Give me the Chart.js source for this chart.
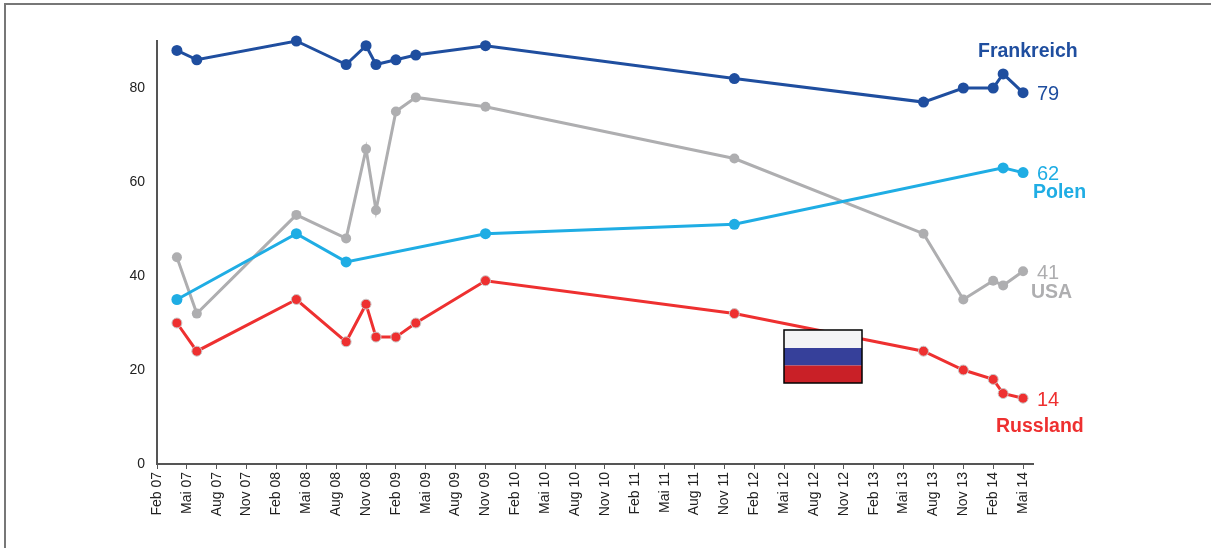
<html>
<head>
    <title>Chart</title>
    <script src="https://cdn.jsdelivr.net/npm/chart.js"></script>
    <style>
        html, body { margin: 0; padding: 0; background: #fff; }
        #box { position: absolute; left: 0; top: 0; width: 1211px; height: 548px; }
    </style>
</head>
<body>
    <div id="box"><canvas id="c1"></canvas></div>
    <script>
        "use strict";
        // months since Feb 07
        let tickLabels = ["Feb 07", "Mai 07", "Aug 07", "Nov 07", "Feb 08", "Mai 08", "Aug 08", "Nov 08",
            "Feb 09", "Mai 09", "Aug 09", "Nov 09", "Feb 10", "Mai 10", "Aug 10", "Nov 10",
            "Feb 11", "Mai 11", "Aug 11", "Nov 11", "Feb 12", "Mai 12", "Aug 12", "Nov 12",
            "Feb 13", "Mai 13", "Aug 13", "Nov 13", "Feb 14", "Mai 14"];
        let months = [2, 4, 14, 19, 21, 22, 24, 26, 33, 58, 77, 81, 84, 85, 87];
        let frankreich = [88, 86, 90, 85, 89, 85, 86, 87, 89, 82, 77, 80, 80, 83, 79];
        let usa = [44, 32, 53, 48, 67, 54, 75, 78, 76, 65, 49, 35, 39, 38, 41];
        let russland = [30, 24, 35, 26, 34, 27, 27, 30, 39, 32, 24, 20, 18, 15, 14];
        let polenMonths = [2, 14, 19, 33, 58, 85, 87];
        let polen = [35, 49, 43, 49, 51, 63, 62];

        const BLUE = "#1f4e9f", CYAN = "#1fade4", GREY = "#aeaeb0", RED = "#ee3030";
        const FONT = '"Liberation Sans", Arial, sans-serif';

        function Pts(xs, ys)
        {
            return xs.map((x, i) => ({ x: x, y: ys[i] }));
        }

        function Line(label, xs, ys, color, r, border)
        {
            return {
                label: label,
                data: Pts(xs, ys),
                clip: false,
                borderColor: color,
                backgroundColor: color,
                borderWidth: 3,
                pointRadius: r,
                pointBackgroundColor: color,
                pointBorderColor: border || color,
                pointBorderWidth: border ? 1 : 0,
                tension: 0
            };
        }

        // names, end values, flag and frame
        let extras = {
            id: "extras",
            afterDatasetsDraw(chart)
            {
                let ctx = chart.ctx;
                ctx.save();
                // frame
                ctx.fillStyle = "#777";
                ctx.fillRect(4, 3, 1207, 2);
                ctx.fillRect(4, 3, 2, 545);

                // flag
                ctx.fillStyle = "#f3f4f5";
                ctx.fillRect(784, 330, 78, 18);
                ctx.fillStyle = "#36409a";
                ctx.fillRect(784, 348, 78, 17.5);
                ctx.fillStyle = "#c92027";
                ctx.fillRect(784, 365.5, 78, 17.5);
                ctx.strokeStyle = "#000";
                ctx.lineWidth = 1.5;
                ctx.strokeRect(784, 330, 78, 53);

                ctx.textBaseline = "alphabetic";
                ctx.textAlign = "left";
                let txt = [
                    ["Frankreich", 978, 57, BLUE, true],
                    ["79", 1037, 100, BLUE, false],
                    ["62", 1037, 180, CYAN, false],
                    ["Polen", 1033, 198, CYAN, true],
                    ["41", 1037, 279, GREY, false],
                    ["USA", 1031, 298, GREY, true],
                    ["14", 1037, 406, RED, false],
                    ["Russland", 996, 432, RED, true]
                ];
                txt.forEach(t => {
                    ctx.font = (t[4] ? "bold 19.5px " : "20px ") + FONT;
                    ctx.fillStyle = t[3];
                    ctx.fillText(t[0], t[1], t[2]);
                });
                ctx.restore();
            }
        };

        let params = {
            type: "line",
            data: {
                datasets: [
                    Line("Frankreich", months, frankreich, BLUE, 5.5),
                    Line("Polen", polenMonths, polen, CYAN, 5.5),
                    Line("Russland", months, russland, RED, 5, "#c9c9c9"),
                    Line("USA", months, usa, GREY, 5)
                ]
            },
            plugins: [extras],
            options: {
                responsive: false,
                animation: false,
                layout: { padding: { top: 41, right: 178, left: 0, bottom: 0 } },
                plugins: { legend: { display: false }, title: { display: false }, tooltip: { enabled: false } },
                scales: {
                    x: {
                        type: "linear",
                        min: 0,
                        max: 88,
                        afterFit: s => { s.height = 84; },
                        afterBuildTicks: s => { s.ticks = tickLabels.map((l, i) => ({ value: i * 3 })); },
                        grid: { drawOnChartArea: false, drawTicks: true, tickLength: 5, color: "#555", tickWidth: 1 },
                        border: { color: "#555", width: 2 },
                        ticks: {
                            autoSkip: false,
                            minRotation: 90,
                            maxRotation: 90,
                            padding: 3,
                            color: "#222",
                            font: { family: FONT, size: 14 },
                            callback: v => tickLabels[v / 3]
                        }
                    },
                    y: {
                        min: 0,
                        max: 90,
                        afterFit: s => { s.width = 157; },
                        afterBuildTicks: s => { s.ticks = s.ticks.filter(t => t.value % 20 == 0); },
                        grid: { drawOnChartArea: false, drawTicks: false },
                        border: { color: "#555", width: 2 },
                        ticks: {
                            stepSize: 20,
                            padding: 12,
                            color: "#222",
                            font: { family: FONT, size: 14 }
                        }
                    }
                }
            }
        };

        let c1 = document.querySelector("#c1");
        c1.width = 1211;
        c1.height = 548;
        let chart1 = new Chart(c1, params);
    </script>
</body>
</html>
